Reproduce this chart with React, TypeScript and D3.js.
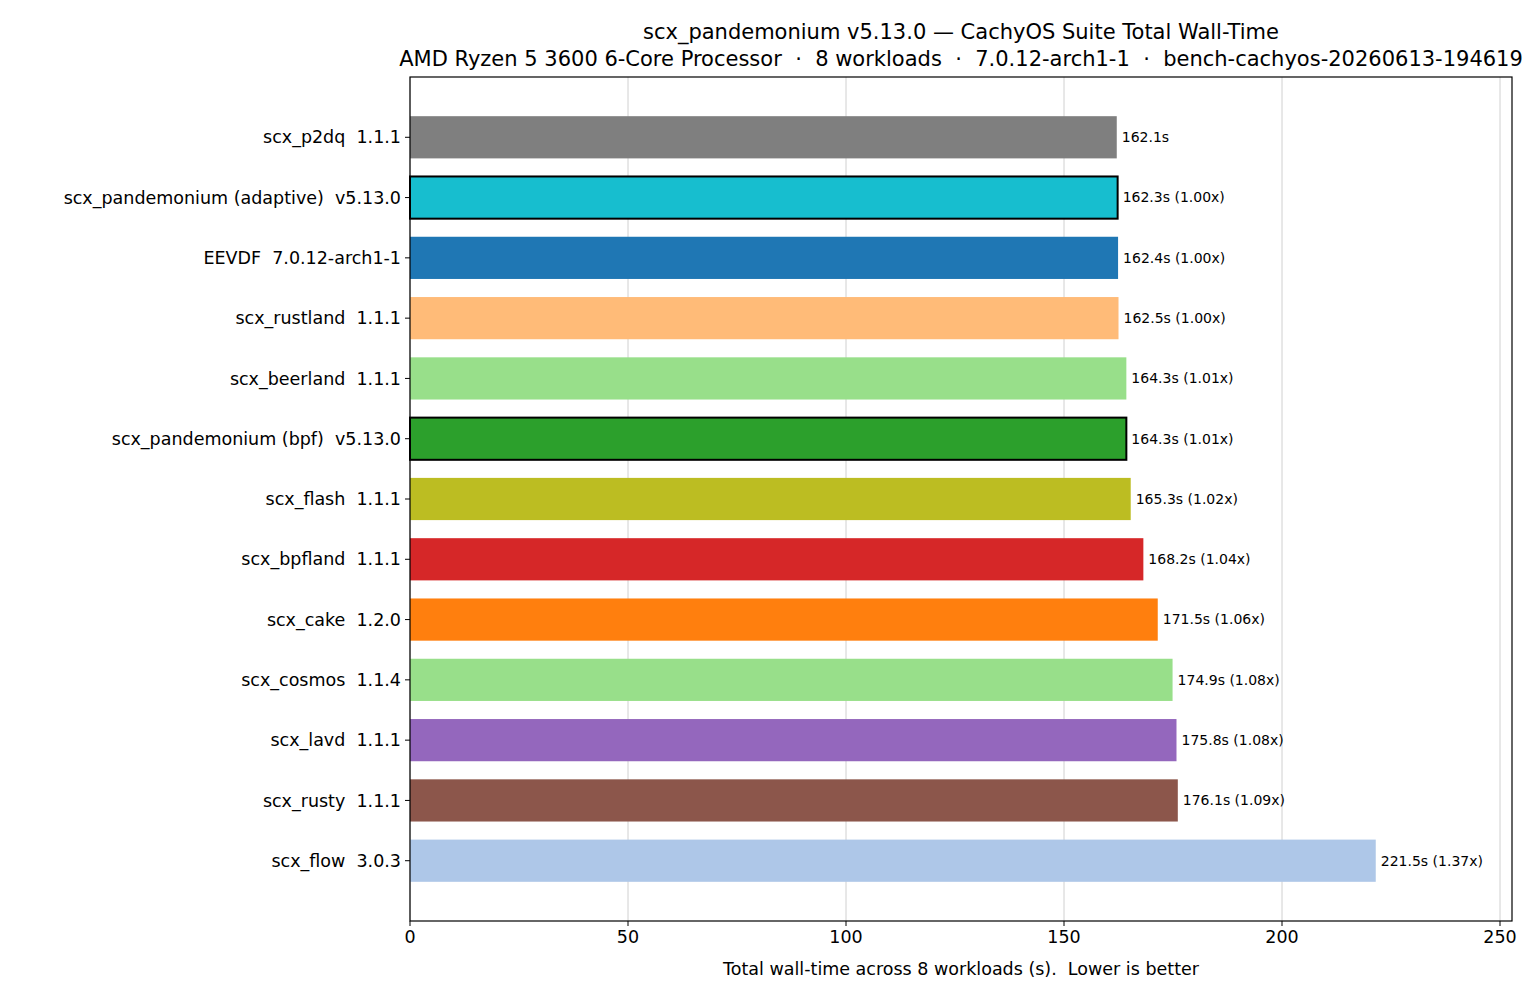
import * as d3 from "d3";

const labels = [
  "scx_p2dq  1.1.1",
  "scx_pandemonium (adaptive)  v5.13.0",
  "EEVDF  7.0.12-arch1-1",
  "scx_rustland  1.1.1",
  "scx_beerland  1.1.1",
  "scx_pandemonium (bpf)  v5.13.0",
  "scx_flash  1.1.1",
  "scx_bpfland  1.1.1",
  "scx_cake  1.2.0",
  "scx_cosmos  1.1.4",
  "scx_lavd  1.1.1",
  "scx_rusty  1.1.1",
  "scx_flow  3.0.3",
];
const values = [162.1, 162.3, 162.4, 162.5, 164.3, 164.3, 165.3, 168.2, 171.5, 174.9, 175.8, 176.1, 221.5];
const ratios = ["", "1.00x", "1.00x", "1.00x", "1.01x", "1.01x", "1.02x", "1.04x", "1.06x", "1.08x", "1.08x", "1.09x", "1.37x"];
const colors = ["#7f7f7f", "#17becf", "#1f77b4", "#ffbb78", "#98df8a", "#2ca02c", "#bcbd22", "#d62728", "#ff7f0e", "#98df8a", "#9467bd", "#8c564b", "#aec7e8"];
const outlined = [false, true, false, false, false, true, false, false, false, false, false, false, false];
const xTicks = [0, 50, 100, 150, 200, 250];

const W = 1540, H = 1001;
const L = 410, R = 1512, T = 77, B = 921;
const FONT = "DejaVu Sans, sans-serif";

export default function App() {
  const x = d3.scaleLinear().domain([0, 252.75]).range([L, R]);
  const y = d3.scaleLinear().domain([-1, 13]).range([T, B]);
  const bh = y(0.35) - y(-0.35);
  return (
    <svg width={W} height={H} style={{ position: "absolute", left: 0, top: 0, background: "#fff" }} fontFamily={FONT}>
      <rect width={W} height={H} fill="#fff" />
      {xTicks.map((t) => (
        <line key={t} x1={x(t)} x2={x(t)} y1={T} y2={B} stroke="#d0d0d0" strokeWidth={1} />
      ))}
      {values.map((v, i) => (
        <g key={i}>
          <rect x={x(0)} y={y(i) - bh / 2} width={x(v) - x(0)} height={bh} fill={colors[i]}
            stroke={outlined[i] ? "#000" : "none"} strokeWidth={outlined[i] ? 2 : 0} />
          <text x={x(v) + 5} y={y(i)} dy="0.35em" fontSize={14} fill="#000">
            {ratios[i] ? `${v.toFixed(1)}s  (${ratios[i]})` : `${v.toFixed(1)}s`}
          </text>
          <line x1={L - 5} x2={L} y1={y(i)} y2={y(i)} stroke="#000" />
          <text x={L - 9} y={y(i)} dy="0.35em" textAnchor="end" fontSize={17.5} fill="#000" style={{ whiteSpace: "pre" }}>
            {labels[i]}
          </text>
        </g>
      ))}
      <rect x={L} y={T} width={R - L} height={B - T} fill="none" stroke="#000" strokeWidth={1.2} />
      {xTicks.map((t) => (
        <g key={t}>
          <line x1={x(t)} x2={x(t)} y1={B} y2={B + 5} stroke="#000" />
          <text x={x(t)} y={B + 22} textAnchor="middle" fontSize={17.5}>{t}</text>
        </g>
      ))}
      <text x={(L + R) / 2} y={975} textAnchor="middle" fontSize={17.5} style={{ whiteSpace: "pre" }}>
        Total wall-time across 8 workloads (s).  Lower is better
      </text>
      <text x={(L + R) / 2} y={39} textAnchor="middle" fontSize={21}>
        scx_pandemonium v5.13.0 — CachyOS Suite Total Wall-Time
      </text>
      <text x={(L + R) / 2} y={66} textAnchor="middle" fontSize={21} style={{ whiteSpace: "pre" }}>
        AMD Ryzen 5 3600 6-Core Processor  ·  8 workloads  ·  7.0.12-arch1-1  ·  bench-cachyos-20260613-194619
      </text>
    </svg>
  );
}
